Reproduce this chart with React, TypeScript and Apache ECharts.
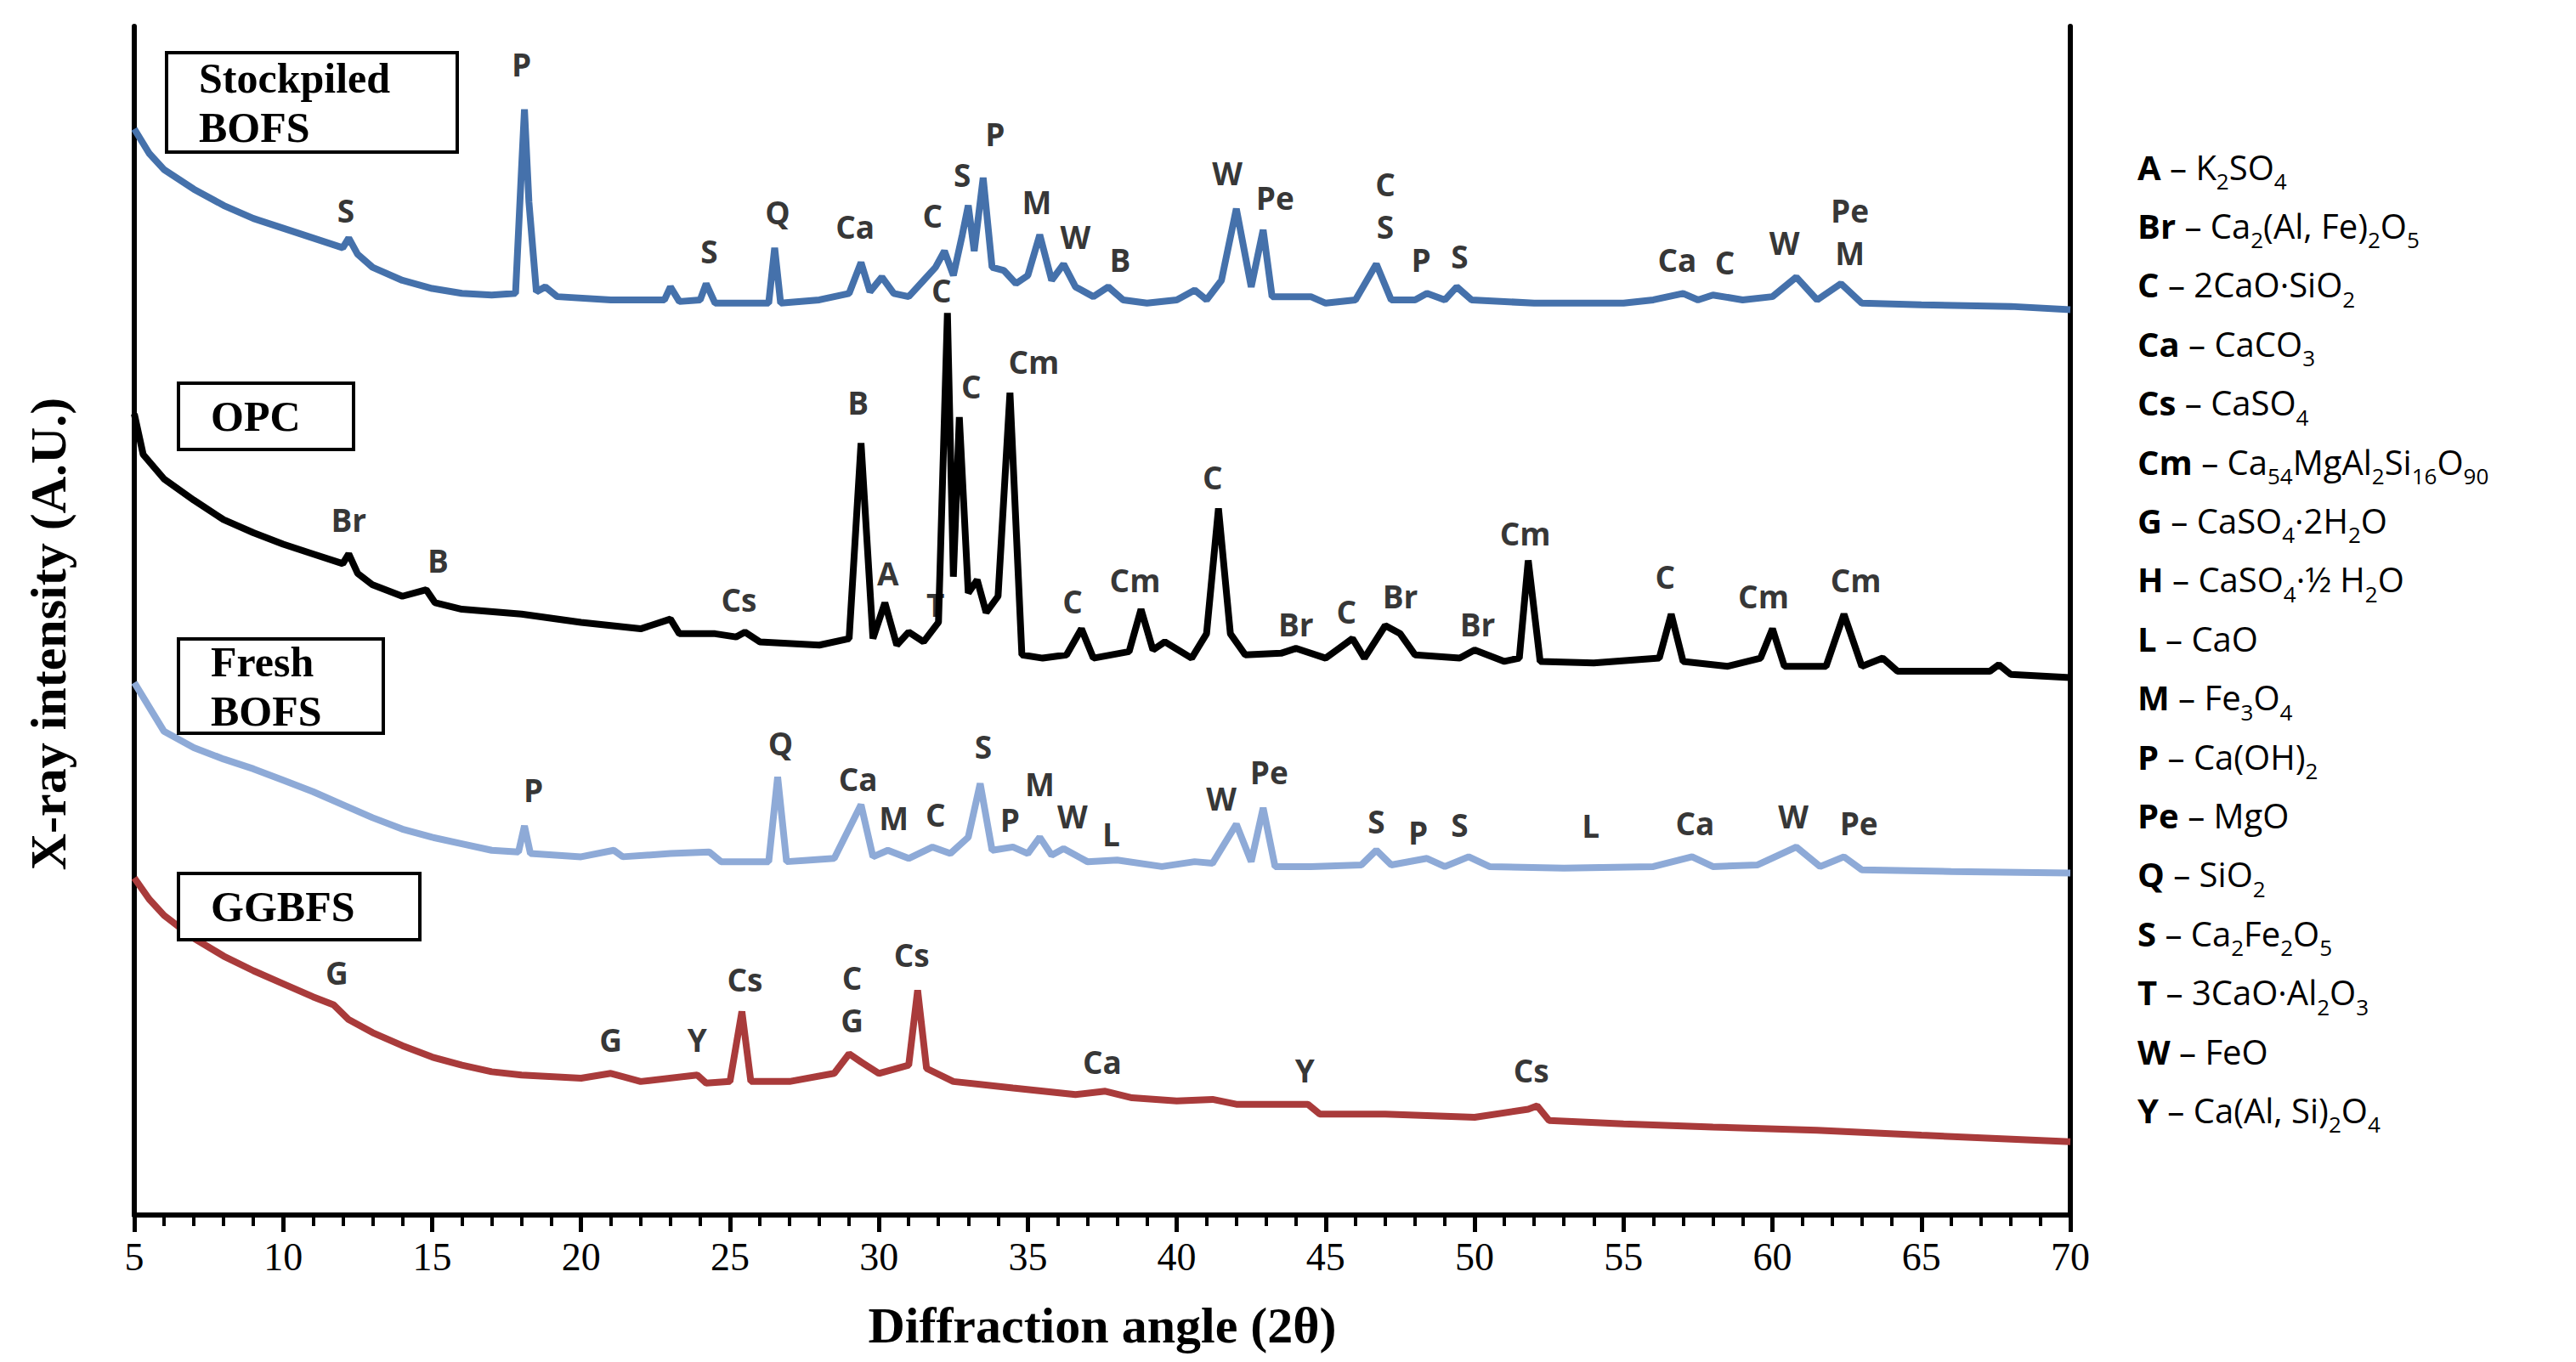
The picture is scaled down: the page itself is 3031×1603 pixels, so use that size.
import React, { useEffect, useRef } from "react";
import * as echarts from "echarts";

// [2θ, intensity (A.U.)]
const stockpiled = [[5,667],[5.5,652],[6,642],[7,630],[8,620],[9,612],[10,606],[11,600],[12,594],[12.2,600],[12.5,590],[13,582],[14,574],[15,569],[16,566],[17,565],[17.8,566],[18.0,642],[18.1,679],[18.25,622],[18.5,567],[18.8,570],[19.2,564],[21,562],[22.8,562],[23.0,570],[23.3,561],[24.0,562],[24.2,572],[24.5,560],[26.3,560],[26.5,594],[26.7,560],[28,562],[29,566],[29.4,585],[29.7,567],[30.1,576],[30.5,566],[31,564],[31.5,574],[31.9,582],[32.2,592],[32.5,577],[32.8,602],[33.0,620],[33.2,592],[33.5,637],[33.8,582],[34.2,580],[34.6,572],[35.0,577],[35.4,602],[35.8,574],[36.2,584],[36.6,570],[37.2,564],[37.7,570],[38.2,562],[39,560],[40,562],[40.6,568],[41,562],[41.5,574],[42,618],[42.5,570],[42.9,605],[43.2,564],[43.7,564],[44.5,564],[45,560],[46,562],[46.7,584],[47.2,562],[48,562],[48.4,566],[49,562],[49.4,570],[49.9,562],[52,560],[55,560],[56,562],[57,566],[57.5,562],[58,565],[59,562],[60,564],[60.8,576],[61.5,562],[62.3,572],[63,560],[65,559],[68,558],[70,556]];

const opc = [[5,492],[5.3,467],[6,452],[7,439],[8,427],[9,419],[10,412],[11,406],[12,400],[12.2,406],[12.5,394],[13,387],[14,380],[14.8,384],[15.1,376],[16,372],[18,369],[20,364],[22,360],[23.0,366],[23.3,357],[24.5,357],[25.2,355],[25.5,358],[26,352],[28,350],[29.0,354],[29.4,474],[29.8,354],[30.2,376],[30.6,350],[31,358],[31.5,352],[32.0,364],[32.3,554],[32.5,392],[32.7,490],[33.0,382],[33.3,390],[33.6,370],[34.0,380],[34.4,505],[34.8,344],[35.5,342],[36.3,344],[36.8,360],[37.2,342],[38.4,346],[38.8,372],[39.2,347],[39.6,352],[40.5,342],[41.0,357],[41.4,434],[41.8,357],[42.3,344],[43.5,345],[44,348],[45,342],[45.9,354],[46.3,342],[47.0,362],[47.5,357],[48,344],[49.5,342],[50,347],[51,340],[51.5,342],[51.8,402],[52.2,340],[54,339],[56.2,342],[56.6,369],[57.0,340],[58.5,337],[59.6,342],[60.0,360],[60.4,337],[61.8,337],[62.4,369],[63.0,337],[63.7,342],[64.2,334],[67.3,334],[67.6,338],[68,332],[70,330]];

const fresh = [[5,327],[5.5,312],[6,297],[7,287],[8,280],[9,274],[10,267],[11,260],[12,252],[13,244],[14,237],[15,232],[16,228],[17,224],[17.9,223],[18.1,239],[18.3,222],[20,220],[21.1,224],[21.4,220],[23,222],[24.3,223],[24.7,217],[26.3,217],[26.6,269],[26.9,217],[28.5,219],[29.4,252],[29.8,220],[30.3,224],[31,219],[31.8,226],[32.4,222],[33,232],[33.4,265],[33.8,224],[34.5,226],[35,222],[35.4,232],[35.8,221],[36.2,225],[37,217],[38,218],[39.5,214],[40.6,217],[41.2,216],[42,240],[42.5,217],[42.9,250],[43.3,214],[44.5,214],[46.2,215],[46.7,224],[47.2,215],[48.4,219],[49.0,214],[49.8,220],[50.5,214],[53,213],[56,214],[57.3,220],[58,214],[59.5,215],[60.8,226],[61.6,214],[62.4,220],[63,212],[66,211],[70,210]];

const ggbfs = [[5,207],[5.5,194],[6,184],[7,170],[8,159],[9,150],[10,142],[11,134],[11.7,129],[12.2,120],[13,112],[14,104],[15,97],[16,92],[17,88],[18,86],[20,84],[21,87],[22,82],[23.9,86],[24.2,81],[25.0,82],[25.4,125],[25.7,82],[27,82],[28.5,87],[29.0,99],[29.4,94],[30,87],[31.0,92],[31.3,138],[31.6,90],[32.5,82],[34.5,78],[36.6,74],[37.6,76],[38.5,72],[40,70],[41.2,71],[42,68],[44.4,68],[44.8,62],[47,62],[50,60],[51.8,65],[52.1,67],[52.5,58],[55,56],[58,54],[61.5,52],[65,49],[70,45]];

// peak labels: [2θ, height, phase]
const stockpiledPeaks = [[18.0,707,"P"],[12.1,617,"S"],[24.3,592,"S"],[26.6,616,"Q"],[29.2,607,"Ca"],[31.8,614,"C"],[32.8,639,"S"],[33.9,664,"P"],[35.3,622,"M"],[36.6,601,"W"],[38.1,587,"B"],[41.7,640,"W"],[43.3,625,"Pe"],[47.0,620,"C\nS"],[48.2,587,"P"],[49.5,589,"S"],[56.8,587,"Ca"],[58.4,585,"C"],[60.4,597,"W"],[62.6,604,"Pe\nM"]];
const opcPeaks = [[32.1,568,"C"],[33.1,509,"C"],[35.2,524,"Cm"],[29.3,499,"B"],[12.2,427,"Br"],[15.2,402,"B"],[25.3,378,"Cs"],[30.3,394,"A"],[31.9,375,"T"],[36.5,377,"C"],[38.6,390,"Cm"],[41.2,453,"C"],[44.0,363,"Br"],[45.7,371,"C"],[47.5,380,"Br"],[50.1,363,"Br"],[51.7,419,"Cm"],[56.4,392,"C"],[59.7,380,"Cm"],[62.8,390,"Cm"]];
const freshPeaks = [[18.4,261,"P"],[26.7,290,"Q"],[29.3,268,"Ca"],[30.5,244,"M"],[31.9,246,"C"],[33.5,288,"S"],[35.4,265,"M"],[34.4,243,"P"],[36.5,245,"W"],[37.8,234,"L"],[41.5,256,"W"],[43.1,272,"Pe"],[46.7,242,"S"],[48.1,235,"P"],[49.5,240,"S"],[53.9,239,"L"],[57.4,241,"Ca"],[60.7,245,"W"],[62.9,241,"Pe"]];
const ggbfsPeaks = [[11.8,149,"G"],[21.0,108,"G"],[23.9,108,"Y"],[25.5,145,"Cs"],[29.1,133,"C\nG"],[31.1,160,"Cs"],[37.5,94,"Ca"],[44.3,89,"Y"],[51.9,89,"Cs"]];

// phase key: [symbol, formula in rich-text form]
const phases = [
  ["A", "K{s|2}SO{s|4}"],
  ["Br", "Ca{s|2}(Al, Fe){s|2}O{s|5}"],
  ["C", "2CaO·SiO{s|2}"],
  ["Ca", "CaCO{s|3}"],
  ["Cs", "CaSO{s|4}"],
  ["Cm", "Ca{s|54}MgAl{s|2}Si{s|16}O{s|90}"],
  ["G", "CaSO{s|4}·2H{s|2}O"],
  ["H", "CaSO{s|4}·½ H{s|2}O"],
  ["L", "CaO"],
  ["M", "Fe{s|3}O{s|4}"],
  ["P", "Ca(OH){s|2}"],
  ["Pe", "MgO"],
  ["Q", "SiO{s|2}"],
  ["S", "Ca{s|2}Fe{s|2}O{s|5}"],
  ["T", "3CaO·Al{s|2}O{s|3}"],
  ["W", "FeO"],
  ["Y", "Ca(Al, Si){s|2}O{s|4}"],
];

const samples = [
  { name: "Stockpiled\nBOFS", data: stockpiled, peaks: stockpiledPeaks, color: "#4571ab", box: [188, 54, 342, 117] },
  { name: "OPC", data: opc, peaks: opcPeaks, color: "#000000", box: [202, 443, 206, 78] },
  { name: "Fresh\nBOFS", data: fresh, peaks: freshPeaks, color: "#8eaad7", box: [202, 744, 241, 111] },
  { name: "GGBFS", data: ggbfs, peaks: ggbfsPeaks, color: "#a93b3b", box: [202, 1020, 284, 78] },
];

const App = () => {
  const chartRef = useRef(null);

  useEffect(() => {
    const chart = echarts.init(chartRef.current, null, { renderer: "svg" });

    const series = [];
    samples.forEach((s) => {
      series.push({
        type: "line",
        data: s.data,
        showSymbol: false,
        lineStyle: { color: s.color, width: 8 },
        z: 2,
      });
      series.push({
        type: "scatter",
        symbolSize: 0,
        data: s.peaks.map((p) => ({ value: [p[0], p[1]], name: p[2] })),
        label: {
          show: true,
          position: "inside",
          formatter: (d) => d.name,
          color: "#000",
          fontFamily: "Open Sans",
          fontWeight: "bold",
          fontSize: 37,
          lineHeight: 50,
        },
        z: 3,
      });
    });

    const graphic = [];
    samples.forEach((s) => {
      const [x, y, w, h] = s.box;
      graphic.push({
        type: "rect",
        shape: { x, y, width: w, height: h },
        style: { fill: "#fff", stroke: "#000", lineWidth: 4 },
        z: 10,
      });
      graphic.push({
        type: "text",
        x: x + 38,
        y: y + h / 2,
        style: {
          text: s.name,
          font: "bold 50px 'Liberation Serif'",
          lineHeight: 58,
          verticalAlign: "middle",
          fill: "#000",
        },
        z: 11,
      });
    });
    phases.forEach((p, i) => {
      graphic.push({
        type: "text",
        x: 2507,
        y: 188 + i * 69.4,
        style: {
          text: `{b|${p[0]}}{n| – ${p[1].replace(/\{s\|/g, "§")}}`.replace(/§([^}]*)\}/g, "}{s|$1}{n|"),
          verticalAlign: "middle",
          rich: {
            b: { font: "bold 40px 'Open Sans'", fill: "#000", lineHeight: 60, verticalAlign: "middle" },
            n: { font: "40px 'Open Sans'", fill: "#000", lineHeight: 60, verticalAlign: "middle" },
            s: { font: "26px 'Open Sans'", fill: "#000", lineHeight: 26, verticalAlign: "bottom" },
          },
        },
      });
    });
    graphic.push({
      type: "text",
      x: 49,
      y: 738,
      rotation: Math.PI / 2,
      style: {
        text: "X-ray intensity (A.U.)",
        font: "bold 60px 'Liberation Serif'",
        align: "center",
        verticalAlign: "middle",
        fill: "#000",
      },
    });

    const frame = () => ({ show: true, lineStyle: { color: "#000", width: 6 } });

    chart.setOption({
      animation: false,
      grid: { left: 150, right: 587, top: 23, bottom: 161 },
      xAxis: [
        {
          type: "value",
          min: 5,
          max: 70,
          interval: 5,
          name: "Diffraction angle (2θ)",
          nameLocation: "middle",
          nameGap: 100,
          nameTextStyle: { fontFamily: "Liberation Serif", fontWeight: "bold", fontSize: 60, color: "#000" },
          axisLine: frame(),
          axisTick: { show: true, length: 20, lineStyle: { color: "#000", width: 5 } },
          minorTick: { show: true, splitNumber: 5, length: 13, lineStyle: { color: "#000", width: 4 } },
          splitLine: { show: false },
          axisLabel: { fontFamily: "Liberation Serif", fontSize: 46, color: "#000", margin: 26 },
        },
        {
          type: "value",
          position: "top",
          min: 5,
          max: 70,
          axisLine: frame(),
          axisTick: { show: false },
          axisLabel: { show: false },
          splitLine: { show: false },
        },
      ],
      yAxis: [
        {
          type: "value",
          min: 0,
          max: 730,
          axisLine: frame(),
          axisTick: { show: false },
          axisLabel: { show: false },
          splitLine: { show: false },
        },
        {
          type: "value",
          position: "right",
          min: 0,
          max: 730,
          axisLine: frame(),
          axisTick: { show: false },
          axisLabel: { show: false },
          splitLine: { show: false },
        },
      ],
      series,
      graphic,
    });

    return () => chart.dispose();
  }, []);

  return <div ref={chartRef} style={{ width: 3015, height: 1587 }} />;
};

export default App;
